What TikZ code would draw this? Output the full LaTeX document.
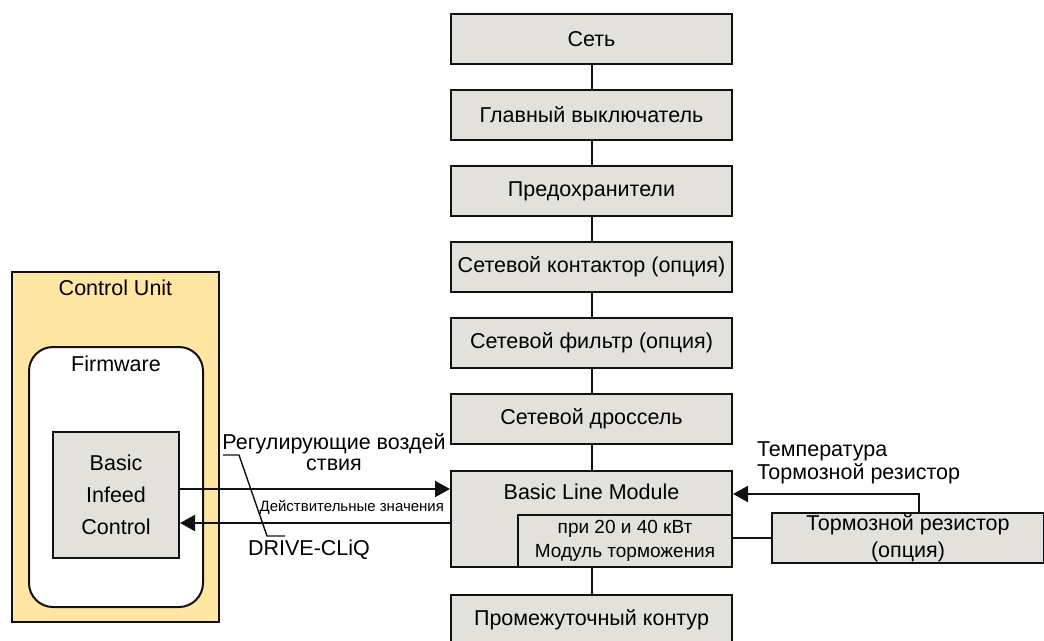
\documentclass[tikz,border=0pt]{standalone}
\usepackage{fontspec}
\setmainfont{Liberation Sans}
\usetikzlibrary{arrows.meta}
\definecolor{boxgray}{HTML}{E2E1DC}
\definecolor{cuyellow}{HTML}{FFE6A2}
\definecolor{edge}{HTML}{111111}

\begin{document}
\begin{tikzpicture}[x=1pt,y=-1pt, line width=2pt, draw=edge,
  blk/.style={draw=edge, fill=boxgray, minimum width=281pt, minimum height=50pt, inner sep=0pt, font=\fontsize{21.5}{24}\selectfont},
  txt/.style={inner sep=0pt, font=\fontsize{21.5}{24}\selectfont},
  small/.style={inner sep=0pt, font=\fontsize{15}{17}\selectfont},
  arr/.style={-{Triangle[length=15pt,width=16pt]}}]
  \useasboundingbox (0,0) rectangle (1044,640);

  % main column
  \node[blk] (net)   at (591.5,39)  {Сеть};
  \node[blk] (msw)   at (591.5,115) {Главный выключатель};
  \node[blk] (fuse)  at (591.5,191) {Предохранители};
  \node[blk] (cont)  at (591.5,267) {Сетевой контактор (опция)};
  \node[blk] (filt)  at (591.5,343) {Сетевой фильтр (опция)};
  \node[blk] (choke) at (591.5,419) {Сетевой дроссель};
  \node[blk, minimum height=96pt] (blm) at (591.5,519) {};
  \node[txt] (blmtxt) at (591.5,492) {Basic Line Module};
  \node[blk, minimum width=214pt, minimum height=52pt, align=center,
        font=\fontsize{19}{24}\selectfont] (brk) at (625,541)
        {при 20 и 40 кВт\\Модуль торможения};
  \node[blk] (dc)    at (591.5,620) {Промежуточный контур};

  \draw (net) -- (msw);
  \draw (msw) -- (fuse);
  \draw (fuse) -- (cont);
  \draw (cont) -- (filt);
  \draw (filt) -- (choke);
  \draw (choke) -- (blm);
  \draw (blm) -- (dc);

  % braking resistor
  \node[blk, minimum width=272pt, align=center, font=\fontsize{21.5}{27}\selectfont]
        (res) at (908,538) {Тормозной резистор\\(опция)};
  \draw (brk.east |- res.west) -- (res.west);
  \coordinate (temp) at (0,494);
  \draw[arr] ([xshift=11pt]res.north) |- (blm.east |- temp);
  \node[txt, anchor=west, align=left, font=\fontsize{21.5}{23}\selectfont] (templbl) at (756,463)
        {Температура\\Тормозной резистор};

  % control unit
  \node[draw=edge, fill=cuyellow, minimum width=207pt, minimum height=350pt] (cu) at (115.5,447) {};
  \node[txt] (cutxt) at (115.5,288) {Control Unit};
  \node[draw=edge, fill=white, rounded corners=24pt, minimum width=174pt, minimum height=260pt] (fw) at (116,477) {};
  \node[txt] (fwtxt) at (116,364) {Firmware};
  \node[blk, minimum width=126pt, minimum height=126pt, align=center,
        font=\fontsize{21.5}{32}\selectfont] (bic) at (116,495) {Basic\\Infeed\\Control};

  % DRIVE-CLiQ
  \coordinate (setp) at (0,489);
  \coordinate (act) at (0,523);
  \draw[arr] (bic.east |- setp) -- (blm.west |- setp);
  \draw[arr] (blm.west |- act) -- (bic.east |- act);
  \node[txt, align=center, font=\fontsize{21.5}{21}\selectfont] (reg) at (334,452)
        {Регулирующие воздей\\ствия};
  \node[small, anchor=east] (actv) at (445,507) {Действительные значения};
  \node[txt] (dcliq) at (309,550) {DRIVE-CLiQ};
  \coordinate (ld1) at (223,455);
  \coordinate (ld2) at (239,455);
  \coordinate (ld3) at (267,536);
  \coordinate (ld4) at (285,536);
  \draw[line width=1.4pt] (ld1) -- (ld2) -- (ld3) -- (ld4);
\end{tikzpicture}
\end{document}
